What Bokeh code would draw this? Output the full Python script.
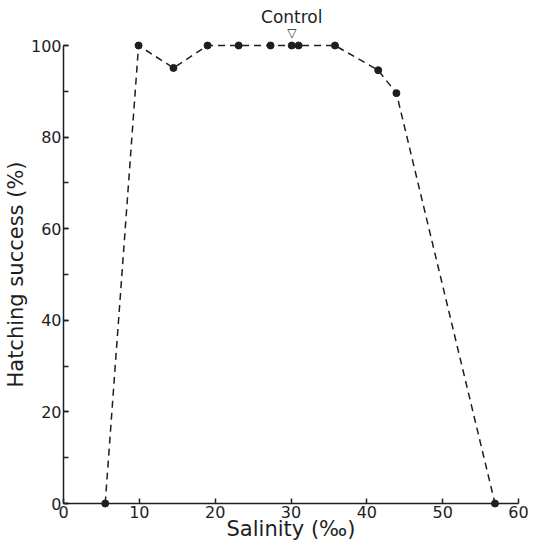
from bokeh.plotting import figure
from bokeh.models import Range1d, SingleIntervalTicker
from bokeh.core.properties import value
from bokeh.embed import file_html
from bokeh.resources import INLINE

# Data
salinity = [5.5, 9.9, 14.5, 19.0, 23.1, 27.3, 30.1, 31.0, 35.8, 41.5, 43.9, 56.9]
hatching = [0, 100, 95.1, 100, 100, 100, 100, 100, 100, 94.6, 89.6, 0]

control_salinity = [30.1]
control_hatching = [100]
control_label = ["Control"]
control_marker = ["\u25BD"]

x_label = "Salinity (\u2030)"
y_label = "Hatching success (%)"

INK = "#1e1e1e"
FONT = "DejaVu Sans"

p = figure(width=536, height=544, output_backend="svg", toolbar_location=None,
           x_range=Range1d(0, 60), y_range=Range1d(0, 100),
           min_border_left=62, min_border_right=18,
           min_border_top=45, min_border_bottom=41)
p.outline_line_color = None
p.grid.grid_line_color = None
p.background_fill_color = "white"
p.border_fill_color = "white"

p.xaxis.ticker = SingleIntervalTicker(interval=10, num_minor_ticks=0)
p.yaxis.ticker = SingleIntervalTicker(interval=20, num_minor_ticks=2)

for ax in (p.xaxis[0], p.yaxis[0]):
    ax.axis_line_color = INK
    ax.axis_line_width = 1.5
    ax.major_tick_line_color = INK
    ax.major_tick_line_width = 1.5
    ax.major_tick_in = 5
    ax.major_tick_out = 0
    ax.minor_tick_line_color = INK
    ax.minor_tick_line_width = 1.5
    ax.minor_tick_in = 5
    ax.minor_tick_out = 0
    ax.major_label_text_font = FONT
    ax.major_label_text_font_size = "16px"
    ax.major_label_text_color = INK
    ax.axis_label_text_font = FONT
    ax.axis_label_text_font_size = "21px"
    ax.axis_label_text_font_style = "normal"
    ax.axis_label_text_color = INK
    ax.major_label_standoff = 2

p.xaxis.axis_label_standoff = -4
p.yaxis.axis_label_standoff = 0

p.xaxis.axis_label = x_label
p.yaxis.axis_label = y_label

line = p.line(salinity, hatching, line_color=INK, line_width=1.5, line_dash="7 5")
line.level = "overlay"
pts = p.scatter(salinity, hatching, size=7, fill_color=INK, line_color=INK)
pts.level = "overlay"

tri = p.text(x=control_salinity, y=control_hatching, text=control_marker,
             text_font=value(FONT), text_font_size=value("12px"),
             text_color=INK, text_align="center", text_baseline="middle",
             y_offset=-13)
tri.level = "overlay"
lab = p.text(x=control_salinity, y=control_hatching, text=control_label,
             text_font=value(FONT), text_font_size=value("17px"),
             text_color=INK, text_align="center", text_baseline="middle",
             y_offset=-29)
lab.level = "overlay"

open("out.html", "w").write(file_html(p, INLINE))
